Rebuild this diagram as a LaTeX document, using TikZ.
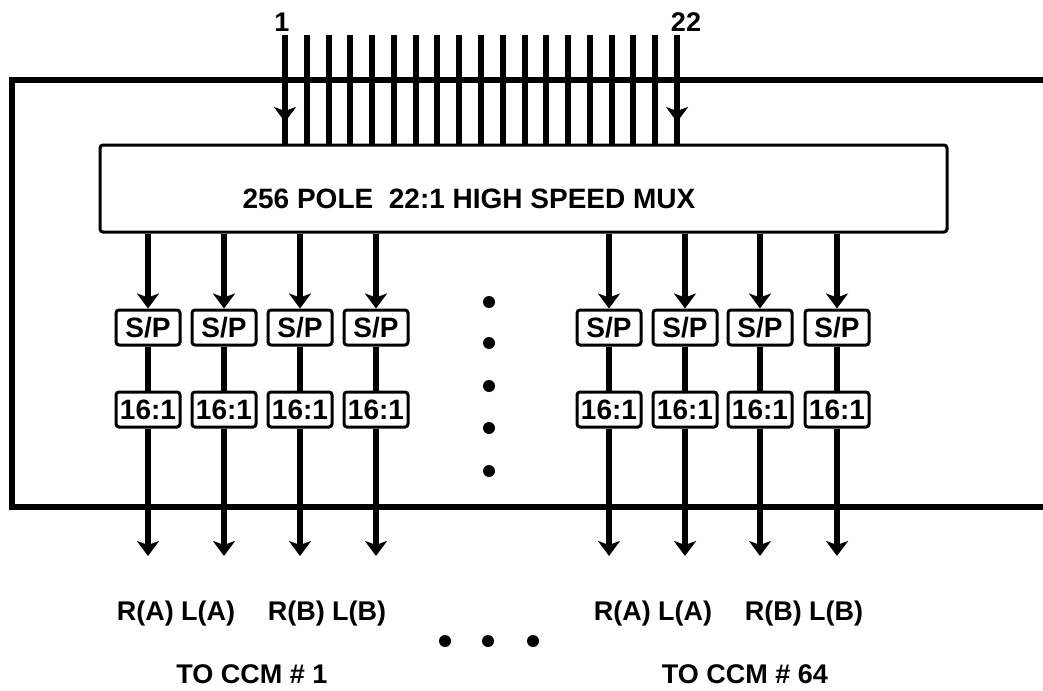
\documentclass[tikz,border=0pt]{standalone}
\usepackage{fontspec}
\setmainfont{Liberation Sans}
\usetikzlibrary{arrows.meta,decorations.markings}
\begin{document}
\begin{tikzpicture}[x=1pt,y=-1pt,
  wire/.style={line width=6pt},
  tip/.style={-{Stealth[length=15pt,width=22pt,inset=4pt]}},
  midtip/.style={postaction={decorate},decoration={markings,mark=at position 87pt with {\arrow{Stealth[length=15pt,width=22pt,inset=4pt]}}}},
  blk/.style={draw,line width=3pt,rounded corners=3pt,minimum width=64pt,minimum height=35pt,inner sep=0pt,text height=20pt,text depth=0pt,font=\bfseries\fontsize{28}{28}\selectfont},
  lbl/.style={font=\bfseries\fontsize{27}{27}\selectfont,inner sep=0pt,anchor=base},
  dotn/.style={circle,fill,inner sep=0pt,minimum size=12pt}]
\useasboundingbox (0,0) rectangle (1043,690);
% outer frame
\coordinate (ftr) at (1050,80);
\coordinate (ftl) at (12,80);
\coordinate (fbl) at (12,507);
\coordinate (fbr) at (1050,507);
\draw[wire] (ftr) -- (ftl) -- (fbl) -- (fbr);
% mux
\node[draw,line width=3pt,rounded corners=3pt,minimum width=847pt,minimum height=87pt,inner sep=0pt] (mux) at (523.5,188.5) {};
\node[lbl,font=\bfseries\fontsize{28}{28}\selectfont] (muxtext) at (469,208) {256 POLE\ \ 22:1 HIGH SPEED MUX};
% inputs
\foreach \k in {1,...,19}{
  \coordinate (in\k) at ({285+(\k-1)*21.78},35);
}
\foreach \k in {2,...,18}{
  \draw[wire] (in\k) -- (in\k |- mux.north);
}
\draw[wire,midtip] (in1) -- (in1 |- mux.north);
\draw[wire,midtip] (in19) -- (in19 |- mux.north);
\node[lbl] (n1) at (282,32) {1};
\node[lbl] (n22) at (686,32) {22};
% columns
\foreach \i/\x in {1/148,2/224,3/300,4/376,5/609,6/685,7/760,8/837}{
  \node[blk] (sp\i) at (\x,327.5) {S/P};
  \node[blk] (mx\i) at (\x,409.5) {16:1};
  \coordinate (out\i) at (\x,556);
  \draw[wire,tip] (mux.south -| sp\i) -- (sp\i.north);
  \draw[wire] (sp\i.south) -- (mx\i.north);
  \draw[wire,tip] (mx\i.south) -- (out\i);
}
% dots
\foreach \y [count=\j] in {302,343,386,428,471}{
  \node[dotn] (vd\j) at (489,\y) {};
}
\foreach \x [count=\j] in {445,488,533}{
  \node[dotn] (hd\j) at (\x,641) {};
}
% labels
\node[lbl] (la1) at (176,620) {R(A) L(A)};
\node[lbl] (lb1) at (327,620) {R(B)\ L(B)};
\node[lbl] (la2) at (653,620) {R(A) L(A)};
\node[lbl] (lb2) at (804,620) {R(B)\ L(B)};
\node[lbl] (cc1) at (252,683) {TO CCM \# 1};
\node[lbl] (cc2) at (745,683) {TO CCM \# 64};
\end{tikzpicture}
\end{document}
